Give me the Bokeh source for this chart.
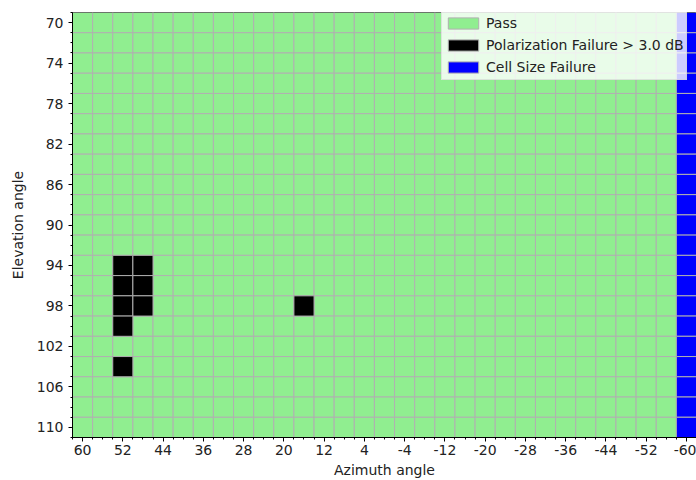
from bokeh.plotting import figure
from bokeh.models import Range1d, FixedTicker, ColumnDataSource, Legend, LegendItem
from bokeh.embed import file_html
from bokeh.resources import INLINE

# ---- data -------------------------------------------------------------
azimuths = [60, 56, 52, 48, 44, 40, 36, 32, 28, 24, 20, 16, 12, 8, 4, 0,
            -4, -8, -12, -16, -20, -24, -28, -32, -36, -40, -44, -48, -52, -56, -60]
elevations = [70, 72, 74, 76, 78, 80, 82, 84, 86, 88, 90, 92, 94, 96, 98, 100,
              102, 104, 106, 108, 110]

# polarization failure cells (> 3.0 dB)
pol_fail_az = [52, 48, 52, 48, 52, 48, 52, 52, 16]
pol_fail_el = [94, 94, 96, 96, 98, 98, 100, 104, 98]

# cell size failure: whole azimuth column
cell_fail_az = [-60]

x_tick_labels = [60, 52, 44, 36, 28, 20, 12, 4, -4, -12, -20, -28, -36, -44, -52, -60]
y_tick_labels = [70, 74, 78, 82, 86, 90, 94, 98, 102, 106, 110]

labels = ["Pass", "Polarization Failure > 3.0 dB", "Cell Size Failure"]
colors = ["#90ee90", "#000000", "#0000ff"]

# ---- classify cells ---------------------------------------------------
pol_set = set(zip(pol_fail_az, pol_fail_el))
groups = {0: ([], []), 1: ([], []), 2: ([], [])}
for az in azimuths:
    for el in elevations:
        if az in cell_fail_az:
            k = 2
        elif (az, el) in pol_set:
            k = 1
        else:
            k = 0
        groups[k][0].append(az)
        groups[k][1].append(el)

p = figure(frame_width=624, frame_height=425,
           x_range=Range1d(62, -62), y_range=Range1d(111, 69),
           output_backend="svg", toolbar_location=None,
           min_border_left=72, min_border_right=0,
           min_border_top=12, min_border_bottom=43,
           background_fill_color="white")

renderers = []
for k in range(3):
    src = ColumnDataSource(dict(x=groups[k][0], y=groups[k][1]))
    r = p.rect(x="x", y="y", width=4, height=2, source=src,
               fill_color=colors[k], line_color="#b0b0b0", line_width=1)
    renderers.append(r)

p.xgrid.visible = False
p.ygrid.visible = False
p.outline_line_color = "black"
p.outline_line_width = 1

x_minor = list(range(62, -63, -2))
y_minor = list(range(69, 112))
p.xaxis.ticker = FixedTicker(ticks=x_tick_labels, minor_ticks=x_minor)
p.yaxis.ticker = FixedTicker(ticks=y_tick_labels, minor_ticks=y_minor)
p.xaxis.major_label_overrides = {v: str(v) for v in x_tick_labels}
p.yaxis.major_label_overrides = {v: str(v) for v in y_tick_labels}

p.xaxis.axis_label = "Azimuth angle"
p.yaxis.axis_label = "Elevation angle"
for ax in (p.xaxis[0], p.yaxis[0]):
    ax.axis_line_color = "black"
    ax.major_tick_in = 0
    ax.major_tick_out = 4
    ax.minor_tick_in = 0
    ax.minor_tick_out = 2
    ax.major_tick_line_color = "black"
    ax.minor_tick_line_color = "black"
    ax.major_label_text_font = "DejaVu Sans"
    ax.major_label_text_font_size = "14px"
    ax.major_label_text_color = "#222222"
    ax.axis_label_text_font = "DejaVu Sans"
    ax.axis_label_text_font_size = "14px"
    ax.axis_label_text_font_style = "normal"
    ax.axis_label_text_color = "#222222"
p.xaxis.major_label_standoff = 3
p.xaxis.axis_label_standoff = 4
p.yaxis.major_label_standoff = 5
p.yaxis.axis_label_standoff = 8

legend = Legend(items=[LegendItem(label=labels[k], renderers=[renderers[k]]) for k in range(3)],
                location=(369, 357), margin=0, padding=2, spacing=2,
                glyph_width=38, glyph_height=14, label_height=20, label_standoff=4,
                label_text_font="DejaVu Sans", label_text_font_size="14px",
                label_text_color="#222222",
                background_fill_color="white", background_fill_alpha=0.8,
                border_line_color="#cccccc", border_line_width=1)
p.add_layout(legend)

open("out.html", "w").write(file_html(p, INLINE))
